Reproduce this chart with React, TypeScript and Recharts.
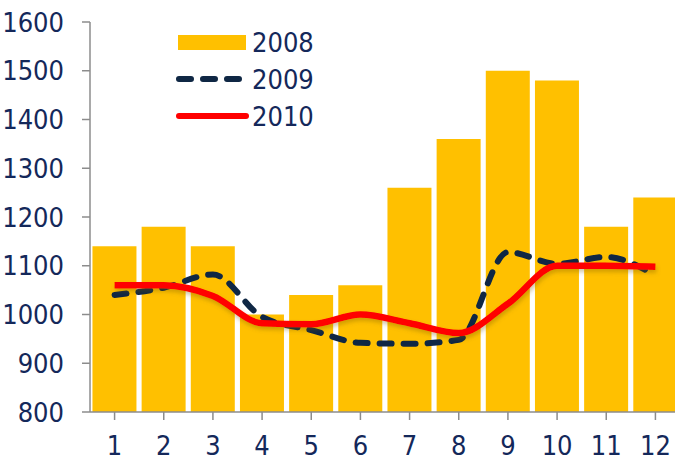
import { ComposedChart, Bar, Line, XAxis, YAxis } from 'recharts';

const MONTHS = ['1', '2', '3', '4', '5', '6', '7', '8', '9', '10', '11', '12'];
const SALES_2008 = [1140, 1180, 1140, 1000, 1040, 1060, 1260, 1360, 1500, 1480, 1180, 1240];
const SALES_2009 = [1040, 1055, 1082, 995, 968, 942, 940, 948, 1128, 1104, 1118, 1080];
const SALES_2010 = [1060, 1060, 1038, 982, 980, 1000, 982, 962, 1022, 1100, 1100, 1098];
const Y_TICKS = [800, 900, 1000, 1100, 1200, 1300, 1400, 1500, 1600];

const TEXT = '#14285a';
const AXIS = '#8c8c8c';
const FONT = '"DejaVu Sans Condensed", "DejaVu Sans", sans-serif';
const FS = 27;
const DASH = '12 12';

const data = MONTHS.map((m, i) => ({
  month: m,
  y2008: SALES_2008[i],
  y2009: SALES_2009[i],
  y2010: SALES_2010[i],
}));

// legend sits inside the plot, top-left
const Legend = () => (
  <div style={{ position: 'absolute', left: 174, top: 24, fontFamily: FONT, fontSize: FS, color: TEXT, lineHeight: '37px' }}>
    <div style={{ display: 'flex', alignItems: 'center' }}>
      <svg width={78} height={37}>
        <rect x={4} y={11} width={68} height={15} fill="#ffc000" />
      </svg>
      <span>2008</span>
    </div>
    <div style={{ display: 'flex', alignItems: 'center' }}>
      <svg width={78} height={37}>
        <line x1={5} y1={18} x2={65} y2={18} stroke="#0f2744" strokeWidth={6} strokeDasharray={DASH} strokeLinecap="round" />
      </svg>
      <span>2009</span>
    </div>
    <div style={{ display: 'flex', alignItems: 'center' }}>
      <svg width={78} height={37}>
        <line x1={5} y1={18} x2={72} y2={18} stroke="#ff0000" strokeWidth={6} strokeLinecap="round" />
      </svg>
      <span>2010</span>
    </div>
  </div>
);

export default function App() {
  return (
    <div style={{ position: 'absolute', left: 0, top: 0, width: 675, height: 464, overflow: 'hidden', background: '#fff' }}>
      <ComposedChart width={690} height={464} data={data} margin={{ top: 22, right: 10, bottom: 0, left: 0 }} barCategoryGap="5%">
        <defs>
          <filter id="shadow" x="-5%" y="-20%" width="110%" height="160%">
            <feDropShadow dx={1} dy={3} stdDeviation={2} floodColor="#7a5a00" floodOpacity={0.35} />
          </filter>
        </defs>
        <XAxis
          dataKey="month"
          height={52}
          tickSize={8}
          tickMargin={16}
          axisLine={{ stroke: AXIS, strokeWidth: 1.5 }}
          tickLine={{ stroke: AXIS, strokeWidth: 1.5 }}
          tick={{ fill: TEXT, fontSize: FS, fontFamily: FONT }}
          interval={0}
        />
        <YAxis
          domain={[800, 1600]}
          ticks={Y_TICKS}
          width={90}
          tickSize={8}
          tickMargin={18}
          allowDataOverflow
          axisLine={{ stroke: AXIS, strokeWidth: 1.5 }}
          tickLine={{ stroke: AXIS, strokeWidth: 1.5 }}
          tick={{ fill: TEXT, fontSize: FS, fontFamily: FONT }}
        />
        <Bar dataKey="y2008" fill="#ffc000" isAnimationActive={false} />
        <Line
          dataKey="y2009"
          type="monotone"
          stroke="#0f2744"
          strokeWidth={6}
          strokeDasharray={DASH}
          strokeLinecap="round"
          dot={false}
          activeDot={false}
          isAnimationActive={false}
        />
        <Line
          dataKey="y2010"
          type="monotone"
          stroke="#ff0000"
          strokeWidth={6.5}
          dot={false}
          activeDot={false}
          filter="url(#shadow)"
          isAnimationActive={false}
        />
      </ComposedChart>
      <Legend />
    </div>
  );
}
